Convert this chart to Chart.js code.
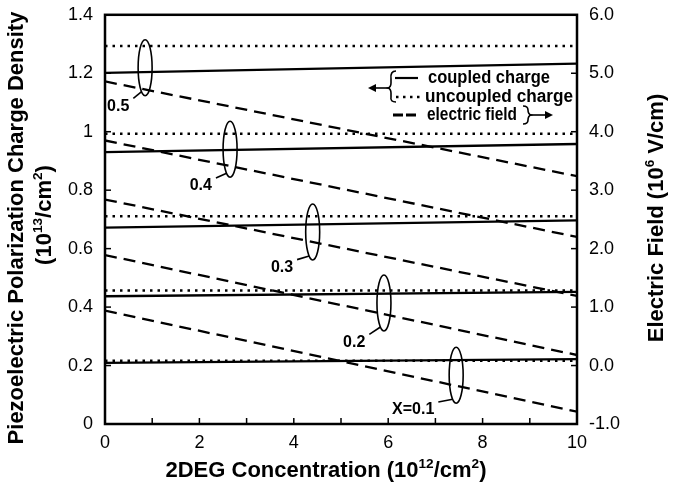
<!DOCTYPE html>
<html>
<head>
<meta charset="utf-8">
<script src="https://cdn.jsdelivr.net/npm/chart.js@4.4.0/dist/chart.umd.min.js"></script>
<style>
  html, body { margin: 0; padding: 0; background: #fff; }
  #wrap { width: 674px; height: 489px; }
</style>
</head>
<body>
<div id="wrap"><canvas id="myChart"></canvas></div>
<script>
// x positions (2DEG concentration, 10^12/cm^2) where the lines were read
const xEnds = [0, 10];
// Al mole fraction of each curve group
const alloyX = [0.1, 0.2, 0.3, 0.4, 0.5];
const alloyLabels = ['X=0.1', '0.2', '0.3', '0.4', '0.5'];
// piezoelectric charge, 10^13/cm^2 (left axis)
const coupledStart = [0.209, 0.437, 0.672, 0.930, 1.201];
const coupledEnd = [0.222, 0.452, 0.697, 0.958, 1.233];
const uncoupled = [0.216, 0.457, 0.711, 0.993, 1.293];
// electric field, 10^6 V/cm (right axis)
const fieldStart = [0.94, 1.89, 2.84, 3.85, 4.86];
const fieldEnd = [-0.79, 0.18, 1.19, 2.20, 3.24];
// ellipse markers: x and left-axis y of centre, and where the label sits
const ringX = [7.44, 5.91, 4.40, 2.65, 0.85];
const ringY = [0.167, 0.414, 0.657, 0.940, 1.219];
const tagX = [6.53, 5.28, 3.75, 2.03, 0.28];
const tagY = [0.048, 0.279, 0.535, 0.814, 1.087];

const FONT = '"Liberation Sans", Arial, Helvetica, sans-serif';

const datasets = [];
alloyX.forEach((a, i) => {
  datasets.push({
    label: 'coupled ' + a,
    data: xEnds.map((x, k) => ({ x: x, y: k === 0 ? coupledStart[i] : coupledEnd[i] })),
    yAxisID: 'y',
    borderColor: '#000',
    borderWidth: 2.3,
    pointRadius: 0
  });
  datasets.push({
    label: 'uncoupled ' + a,
    data: xEnds.map((x) => ({ x: x, y: uncoupled[i] })),
    yAxisID: 'y',
    borderColor: '#000',
    borderWidth: 2.5,
    borderDash: [2.5, 5],
    pointRadius: 0
  });
  datasets.push({
    label: 'field ' + a,
    data: xEnds.map((x, k) => ({ x: x, y: k === 0 ? fieldStart[i] : fieldEnd[i] })),
    yAxisID: 'y2',
    borderColor: '#000',
    borderWidth: 2.3,
    borderDash: [12, 7],
    pointRadius: 0
  });
});

function drawRich(ctx, parts, cx, cy, size, rot) {
  ctx.save();
  ctx.translate(cx, cy);
  ctx.rotate(rot);
  let total = 0;
  parts.forEach(p => {
    ctx.font = 'bold ' + (p.sup ? size * 0.62 : size) + 'px ' + FONT;
    total += ctx.measureText(p.t).width;
  });
  let x = -total / 2;
  ctx.textAlign = 'left';
  ctx.textBaseline = 'middle';
  ctx.fillStyle = '#000';
  parts.forEach(p => {
    ctx.font = 'bold ' + (p.sup ? size * 0.62 : size) + 'px ' + FONT;
    ctx.fillText(p.t, x, p.sup ? -size * 0.3 : 0);
    x += ctx.measureText(p.t).width;
  });
  ctx.restore();
}

function line(ctx, x1, y1, x2, y2) {
  ctx.beginPath();
  ctx.moveTo(x1, y1);
  ctx.lineTo(x2, y2);
  ctx.stroke();
}

function arrowHead(ctx, x, y, dir) {
  ctx.beginPath();
  ctx.moveTo(x, y);
  ctx.lineTo(x - dir * 8, y - 4);
  ctx.lineTo(x - dir * 8, y + 4);
  ctx.closePath();
  ctx.fill();
}

const decorations = {
  id: 'decorations',
  afterDraw(chart) {
    const ctx = chart.ctx;
    const area = chart.chartArea;
    const xs = chart.scales.x, ys = chart.scales.y, ys2 = chart.scales.y2;
    ctx.save();
    ctx.strokeStyle = '#000';
    ctx.fillStyle = '#000';

    // frame
    ctx.lineWidth = 2.5;
    ctx.strokeRect(area.left, area.top, area.right - area.left, area.bottom - area.top);

    // inward ticks
    ctx.lineWidth = 1.5;
    xs.ticks.forEach(t => {
      const px = xs.getPixelForValue(t.value);
      line(ctx, px, area.bottom, px, area.bottom - 6);
    });
    ys.ticks.forEach(t => {
      const py = ys.getPixelForValue(t.value);
      line(ctx, area.left, py, area.left + 6, py);
    });
    ys2.ticks.forEach(t => {
      const py = ys2.getPixelForValue(t.value);
      line(ctx, area.right, py, area.right - 6, py);
    });

    // ellipses, labels and leaders
    ctx.font = 'bold 16px ' + FONT;
    ctx.textAlign = 'center';
    ctx.textBaseline = 'middle';
    alloyLabels.forEach((lab, i) => {
      const cx = xs.getPixelForValue(ringX[i]);
      const cy = ys.getPixelForValue(ringY[i]);
      ctx.lineWidth = 1.6;
      ctx.beginPath();
      ctx.ellipse(cx, cy, 7, 28, 0, 0, Math.PI * 2);
      ctx.stroke();
      const lx = xs.getPixelForValue(tagX[i]);
      const ly = ys.getPixelForValue(tagY[i]);
      ctx.fillText(lab, lx, ly);
      const w = ctx.measureText(lab).width;
      line(ctx, lx + w / 2 + 4, ly - 8, cx - 3.5, cy + 24);
    });

    // legend
    ctx.lineWidth = 2.2;
    line(ctx, 395, 78, 418, 78);
    ctx.save();
    ctx.lineWidth = 2.5;
    ctx.setLineDash([2.5, 4.5]);
    line(ctx, 396, 97, 420, 97);
    ctx.setLineDash([10, 3]);
    ctx.lineWidth = 2.8;
    line(ctx, 393, 115, 418, 115);
    ctx.restore();

    ctx.font = 'bold 18px ' + FONT;
    ctx.textAlign = 'left';
    ctx.fillText('coupled charge', 428, 78, 122);
    ctx.fillText('uncoupled charge', 425, 97, 148);
    ctx.fillText('electric field', 427, 115, 90);

    // left brace with arrow
    ctx.lineWidth = 1.6;
    ctx.beginPath();
    ctx.moveTo(396, 71);
    ctx.quadraticCurveTo(390, 71, 391, 79);
    ctx.lineTo(391, 83);
    ctx.quadraticCurveTo(391, 87, 388, 88);
    ctx.quadraticCurveTo(391, 89, 391, 93);
    ctx.lineTo(391, 97);
    ctx.quadraticCurveTo(390, 102, 396, 102);
    ctx.stroke();
    line(ctx, 388, 88, 374, 88);
    arrowHead(ctx, 368, 88, -1);

    // right brace with arrow
    ctx.beginPath();
    ctx.moveTo(523, 106);
    ctx.quadraticCurveTo(528, 106, 528, 110);
    ctx.quadraticCurveTo(528, 114, 531, 115);
    ctx.quadraticCurveTo(528, 116, 528, 120);
    ctx.quadraticCurveTo(528, 124, 523, 124);
    ctx.stroke();
    line(ctx, 531, 115, 546, 115);
    arrowHead(ctx, 553, 115, 1);

    // axis titles
    drawRich(ctx, [{ t: '2DEG Concentration (10' }, { t: '12', sup: true }, { t: '/cm' }, { t: '2', sup: true }, { t: ')' }], 326, 471, 22, 0);
    drawRich(ctx, [{ t: 'Piezoelectric Polarization Charge Density' }], 17, 228, 22, -Math.PI / 2);
    drawRich(ctx, [{ t: '(10' }, { t: '13', sup: true }, { t: '/cm' }, { t: '2', sup: true }, { t: ')' }], 45, 215, 22, -Math.PI / 2);
    drawRich(ctx, [{ t: 'Electric Field (10' }, { t: '6', sup: true }, { t: ' V/cm)' }], 657, 218, 22, -Math.PI / 2);

    ctx.restore();
  }
};

const tickFont = { family: FONT, size: 18, weight: 'normal' };

const options = {
  responsive: true,
  maintainAspectRatio: false,
  animation: false,
  layout: { padding: { top: 13, left: 0, right: 0, bottom: 0 } },
  plugins: {
    legend: { display: false },
    tooltip: { enabled: false }
  },
  scales: {
    x: {
      type: 'linear',
      min: 0,
      max: 10,
      grid: { display: false },
      border: { display: false },
      ticks: {
        stepSize: 1,
        autoSkip: false,
        maxRotation: 0,
        color: '#000',
        font: tickFont,
        padding: 0,
        callback: (v) => (v % 2 === 0 ? v : '')
      },
      afterFit: (s) => { s.height = 65; }
    },
    y: {
      position: 'left',
      min: 0,
      max: 1.4,
      grid: { display: false },
      border: { display: false },
      ticks: {
        stepSize: 0.2,
        color: '#000',
        font: tickFont,
        padding: 4,
        callback: (v) => String(Number(v.toFixed(1)))
      },
      afterFit: (s) => { s.width = 105; }
    },
    y2: {
      position: 'right',
      min: -1,
      max: 6,
      grid: { display: false },
      border: { display: false },
      ticks: {
        stepSize: 1,
        color: '#000',
        font: tickFont,
        padding: 4,
        callback: (v) => v.toFixed(1)
      },
      afterFit: (s) => { s.width = 97; }
    }
  }
};

const ctx = document.getElementById('myChart').getContext('2d');
new Chart(ctx, {
  type: 'line',
  data: { datasets: datasets },
  options: options,
  plugins: [decorations]
});
</script>
</body>
</html>
